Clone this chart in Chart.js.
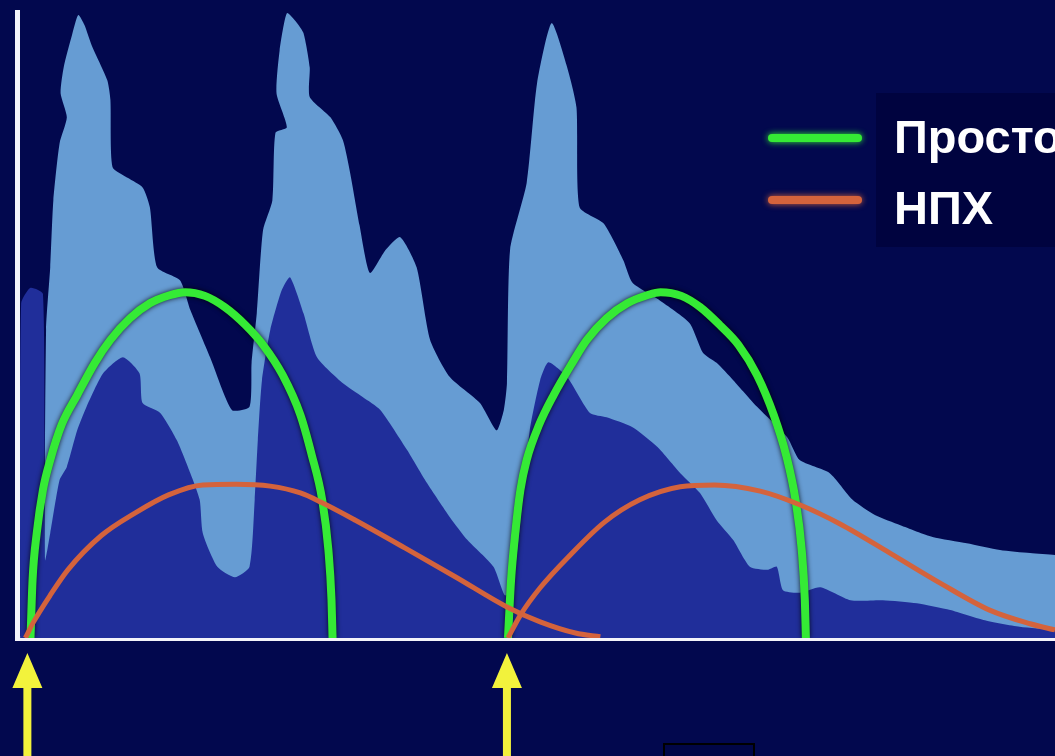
<!DOCTYPE html>
<html lang="ru">
<head>
<meta charset="utf-8">
<title>Простой / НПХ</title>
<script src="https://cdn.jsdelivr.net/npm/chart.js@4.4.0/dist/chart.umd.min.js"></script>
<style>
    html, body { margin: 0; padding: 0; background: #02084e; }
    #wrap { position: relative; width: 1055px; height: 756px; }
</style>
</head>
<body>
<div id="wrap"><canvas id="chart"></canvas></div>
<script>
// --- данные (условные единицы: время 0..100, уровень 0..101) ---

// светлая огибающая (общий фон)
const lightX = [2.6, 2.8, 3.2, 3.5, 4.1, 4.8, 4.2, 4.5, 5.3, 5.9, 6.5, 7.2, 8.7, 9.0, 9.2, 10.7, 12.1, 12.8, 13.5, 15.7,
    16.7, 18.6, 20.7, 22.4, 22.6, 23.1, 23.7, 24.6, 24.9, 26.0, 25.0, 25.3, 26.0, 26.9, 27.6, 28.2, 28.2, 30.2, 31.4, 32.1,
    33.0, 34.0, 35.5, 36.9, 38.5, 39.8, 41.7, 44.6, 46.2, 46.9, 47.2, 47.5, 49.1, 50.1, 51.5, 53.0, 53.9, 54.2, 56.5, 58.4,
    59.3, 61.9, 64.8, 66.1, 67.4, 69.0, 71.3, 74.2, 75.4, 78.3, 80.5, 82.7, 85.1, 88.2, 91.5, 94.7, 97.6, 100];
const lightY = [0, 49.7, 59.8, 70.6, 79.8, 84.0, 87.9, 92.1, 97.3, 100.5, 98.9, 95.6, 90.0, 86.8, 76.0, 74.2, 72.7, 69.5, 59.8, 57.7,
    52.9, 45.3, 36.8, 37.3, 44.4, 52.4, 65.8, 70.6, 81.5, 82.4, 87.9, 94.8, 100.8, 99.4, 97.6, 92.1, 87.3, 84.0, 80.3, 75.0,
    66.6, 58.9, 62.6, 64.7, 59.8, 48.1, 42.1, 37.9, 33.5, 36.8, 41.1, 62.6, 73.4, 89.5, 99.2, 92.1, 85.6, 69.5, 66.9, 61.0,
    57.3, 54.5, 50.8, 46.0, 44.4, 41.6, 37.3, 32.4, 28.7, 26.6, 22.3, 19.8, 18.2, 16.3, 15.3, 14.2, 13.7, 13.4];

// тёмно-синяя область
const darkX = [0.3, 0.4, 1.3, 2.5, 2.7, 3.2, 4.1, 4.8, 5.8, 6.7, 8.3, 10.2, 11.8, 12.1, 13.8, 15.4, 16.7, 17.6, 17.9, 19.3,
    21.0, 22.4, 22.9, 23.2, 23.6, 24.4, 25.5, 26.3, 27.6, 28.9, 31.4, 33.3, 35.0, 37.6, 39.5, 41.7, 43.4, 45.9, 47.0, 47.7,
    48.5, 49.4, 50.4, 51.2, 53.0, 55.2, 56.8, 59.3, 61.7, 63.9, 65.8, 67.4, 69.0, 70.6, 72.3, 73.2, 73.8, 75.4, 77.4, 80.3,
    83.4, 86.7, 89.9, 93.1, 96.6, 100];
const darkY = [0, 54.0, 56.5, 55.5, 12.6, 16.9, 25.5, 27.6, 33.5, 37.3, 42.7, 45.3, 42.7, 37.9, 36.3, 31.9, 26.6, 22.3, 16.9, 11.5,
    9.8, 11.5, 22.3, 31.9, 41.6, 49.7, 56.1, 58.2, 52.4, 45.3, 41.1, 38.9, 36.8, 30.3, 25.0, 19.5, 15.8, 11.5, 6.9, 7.7,
    19.0, 33.5, 41.6, 44.5, 42.1, 36.3, 35.6, 34.0, 30.8, 26.6, 23.4, 19.0, 15.8, 11.5, 11.0, 11.5, 7.7, 7.3, 8.2, 6.1,
    6.1, 5.6, 4.5, 2.9, 1.8, 1.3];

// «Простой» — две дуги
const arch1X = [1.3, 1.5, 1.9, 2.5, 3.2, 4.3, 5.8, 7.5, 9.0, 10.9, 12.8, 14.7, 16.2, 18.1, 20.0, 22.0, 23.7, 25.6, 27.3, 28.4, 29.4, 30.0, 30.3, 30.4];
const arch1Y = [0, 9.4, 16.9, 23.9, 28.7, 34.4, 39.2, 44.4, 48.1, 51.6, 54.0, 55.3, 55.8, 55.2, 53.4, 50.5, 47.3, 42.4, 36.0, 29.5, 22.3, 14.2, 6.1, 0];
const arch2X = [47.3, 47.6, 48.0, 48.5, 49.1, 50.3, 51.7, 53.5, 54.9, 56.8, 58.8, 60.7, 62.0, 64.0, 65.8, 67.7, 69.5, 71.3, 72.9, 74.1, 75.0, 75.6, 75.9, 76.0];
const arch2Y = [0, 9.4, 16.9, 23.9, 28.7, 34.4, 39.2, 44.4, 48.1, 51.6, 54.0, 55.3, 55.8, 55.2, 53.4, 50.5, 47.3, 42.4, 36.0, 29.5, 22.3, 14.2, 6.1, 0];

// НПХ — две пологие кривые
const npx1X = [0.8, 1.6, 3.2, 4.9, 8.1, 11.4, 14.6, 17.9, 21.1, 24.4, 27.3, 29.3, 32.6, 37.4, 42.3, 47.2, 50.4, 53.8, 56.2];
const npx1Y = [0, 2.6, 6.9, 11.0, 16.5, 20.2, 23.1, 24.7, 24.8, 24.5, 23.4, 21.9, 19.0, 14.5, 9.8, 5.0, 2.6, 0.8, 0.2];
const npx2X = [47.3, 48.5, 50.4, 53.3, 56.6, 60.0, 63.9, 67.2, 71.6, 75.4, 79.3, 84.1, 88.9, 93.7, 97.6, 100];
const npx2Y = [0, 3.7, 8.1, 13.4, 18.7, 22.3, 24.4, 24.7, 23.7, 21.5, 18.4, 13.7, 8.9, 4.5, 2.3, 1.3];

const legendLabels = ['Просто', 'НПХ'];
const arrowAt = [1.0, 47.2];   // моменты начала циклов

const GREEN = '#35ea35';
const ORANGE = '#d4633c';

const toPoints = (xs, ys) => xs.map((x, i) => ({ x, y: ys[i] }));

const areaStyle = (color, order) => ({
    backgroundColor: color, borderWidth: 0, fill: 'origin', pointRadius: 0, tension: 0.2, order
});
const lineStyle = (color, width, order) => ({
    borderColor: color, borderWidth: width, fill: false, pointRadius: 0,
    cubicInterpolationMode: 'monotone', order
});

// тень у зелёных линий, легенда, стрелки
const slideExtras = {
    id: 'slideExtras',
    beforeDatasetDraw(chart, args) {
        const ds = chart.data.datasets[args.index];
        if (!ds.glow) return;
        const ctx = chart.ctx;
        ctx.save();
        ctx.shadowColor = 'rgba(0,0,0,0.85)';
        ctx.shadowBlur = 5;
    },
    afterDatasetDraw(chart, args) {
        if (chart.data.datasets[args.index].glow) chart.ctx.restore();
    },
    afterDraw(chart) {
        const ctx = chart.ctx;
        const xs = chart.scales.x;

        // легенда
        ctx.save();
        ctx.fillStyle = '#00033f';
        ctx.fillRect(876, 93, 200, 154);
        const colors = [GREEN, ORANGE];
        const rows = [138, 200];
        rows.forEach((y, i) => {
            ctx.save();
            ctx.shadowColor = colors[i];
            ctx.shadowBlur = 6;
            ctx.strokeStyle = colors[i];
            ctx.lineWidth = 8;
            ctx.lineCap = 'round';
            ctx.beginPath();
            ctx.moveTo(772, y);
            ctx.lineTo(858, y);
            ctx.stroke();
            ctx.restore();
        });
        ctx.fillStyle = '#ffffff';
        ctx.font = 'bold 47px "Liberation Sans", Arial, sans-serif';
        ctx.textBaseline = 'alphabetic';
        ctx.fillText(legendLabels[0], 894, 153);
        ctx.fillText(legendLabels[1], 894, 224);

        // стрелки
        ctx.fillStyle = '#f2f23c';
        arrowAt.forEach(v => {
            const cx = xs.getPixelForValue(v);
            ctx.beginPath();
            ctx.moveTo(cx, 653);
            ctx.lineTo(cx + 15, 688);
            ctx.lineTo(cx + 4, 688);
            ctx.lineTo(cx + 4, 760);
            ctx.lineTo(cx - 4, 760);
            ctx.lineTo(cx - 4, 688);
            ctx.lineTo(cx - 15, 688);
            ctx.closePath();
            ctx.fill();
        });

        // пустая рамка внизу
        ctx.fillStyle = '#010646';
        ctx.fillRect(664, 744, 90, 14);
        ctx.strokeStyle = '#000000';
        ctx.lineWidth = 2;
        ctx.strokeRect(664, 744, 90, 20);
        ctx.restore();
    }
};

new Chart(document.getElementById('chart'), {
    type: 'line',
    data: {
        datasets: [
            { label: 'Простой', data: toPoints(arch1X, arch1Y), glow: true, ...lineStyle(GREEN, 8, 1) },
            { label: 'Простой (2)', data: toPoints(arch2X, arch2Y), glow: true, ...lineStyle(GREEN, 8, 1) },
            { label: 'НПХ', data: toPoints(npx1X, npx1Y), ...lineStyle(ORANGE, 5, 0) },
            { label: 'НПХ (2)', data: toPoints(npx2X, npx2Y), ...lineStyle(ORANGE, 5, 0) },
            { label: 'dark', data: toPoints(darkX, darkY), ...areaStyle('#202e9a', 2) },
            { label: 'light', data: toPoints(lightX, lightY), ...areaStyle('#669cd3', 3) }
        ]
    },
    options: {
        responsive: true,
        maintainAspectRatio: false,
        animation: false,
        layout: { padding: { left: 17, right: 0, top: 12, bottom: 118 } },
        plugins: { legend: { display: false }, tooltip: { enabled: false } },
        scales: {
            x: {
                type: 'linear', min: 0, max: 100,
                ticks: { display: false },
                grid: { display: false, drawTicks: false },
                border: { color: '#f4f4fa', width: 5 }
            },
            y: {
                min: 0, max: 101,
                ticks: { display: false },
                grid: { display: false, drawTicks: false },
                border: { color: '#f4f4fa', width: 5 }
            }
        }
    },
    plugins: [slideExtras]
});
</script>
</body>
</html>
